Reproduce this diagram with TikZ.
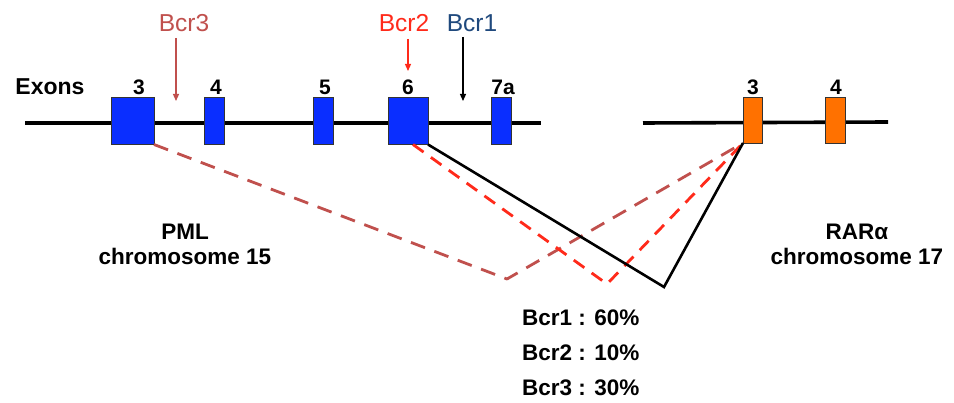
\documentclass[tikz,border=0pt]{standalone}
\usepackage{fontspec}
\setmainfont{Liberation Sans}
\usetikzlibrary{arrows.meta}
\definecolor{exblue}{HTML}{0A2EFF}
\definecolor{exorange}{HTML}{FF7100}
\definecolor{rosy}{HTML}{C0504D}
\definecolor{bred}{HTML}{FF2A1A}
\definecolor{dblue}{HTML}{1F497D}
\begin{document}
\begin{tikzpicture}[x=1pt,y=-1pt,
  exon/.style={draw=black!80,line width=0.8pt,fill=exblue,minimum height=47pt,inner sep=0pt,outer sep=0pt},
  rexon/.style={draw=black!80,line width=0.8pt,fill=exorange,minimum height=46pt,inner sep=0pt,outer sep=0pt},
  chrom/.style={line width=4.5pt},
  num/.style={font=\bfseries\fontsize{21}{24}\selectfont,inner sep=0pt,anchor=base},
  lbl/.style={font=\bfseries\fontsize{22.5}{25}\selectfont,inner sep=0pt,align=center},
  bcr/.style={font=\fontsize{24.5}{27}\selectfont,inner sep=0pt,anchor=base},
  pct/.style={font=\bfseries\fontsize{22.5}{25}\selectfont,inner sep=0pt,anchor=base west},
  ptr/.style={line width=1.2pt,-{Triangle[length=7pt,width=6pt]}},
  brk1/.style={line width=2.6pt,black},
  brk2/.style={line width=2.8pt,bred,dash pattern=on 13pt off 9pt},
  brk3/.style={line width=2.8pt,rosy,dash pattern=on 15pt off 10pt},
]
\useasboundingbox (0,0) rectangle (954,403);
% chromosome lines
\coordinate (pL) at (25,123);
\coordinate (pR) at (541,123);
\coordinate (rL) at (643,123);
\coordinate (rR) at (888,122);
\draw[chrom] (pL) -- (pR);
\draw[chrom,line width=3.6pt] (rL) -- (rR);
% PML exons
\node[exon,minimum width=43pt] (e3) at (132.5,121) {};
\node[exon,minimum width=20pt] (e4) at (214,121) {};
\node[exon,minimum width=20pt] (e5) at (323.5,121) {};
\node[exon,minimum width=40pt] (e6) at (408,121) {};
\node[exon,minimum width=20pt] (e7) at (501.5,121) {};
% RARA exons
\node[rexon,minimum width=19pt] (r3) at (752.5,120) {};
\node[rexon,minimum width=20pt] (r4) at (835,120) {};
% exon numbers
\node[num] (n3) at (139,95) {3};
\node[num] (n4) at (216,95) {4};
\node[num] (n5) at (325,95) {5};
\node[num] (n6) at (408,95) {6};
\node[num] (n7) at (503,95) {7a};
\node[num] (m3) at (753,95) {3};
\node[num] (m4) at (836,95) {4};
\node[num,font=\bfseries\fontsize{23}{26}\selectfont] (ex) at (50,95) {Exons};
% Bcr labels and pointers
\node[bcr,text=rosy] (b3) at (184,32) {Bcr3};
\node[bcr,text=bred] (b2) at (404,32) {Bcr2};
\node[bcr,text=dblue] (b1) at (472,32) {Bcr1};
\coordinate (t3) at (176,101);
\coordinate (t2) at (408,71);
\coordinate (t1) at (463,101);
\draw[ptr,rosy] (t3 |- 0,38) -- (t3);
\draw[ptr,bred] (t2 |- 0,39) -- (t2);
\draw[ptr,black] (t1 |- 0,37) -- (t1);
% breakpoint connectors
\coordinate (v3) at (507,279);
\coordinate (v2) at (607,284);
\coordinate (v1) at (664,287);
\coordinate (s2) at (413,144.5);
\draw[brk3,line join=round] (e3.south east) -- (v3) -- (r3.south west);
\draw[brk2] (s2) -- (v2) -- (r3.south west);
\draw[brk1,line join=miter] (e6.south east) -- (v1) -- (r3.south west);
% chromosome labels
\node[lbl] (pml) at (185,244) {PML\\chromosome 15};
\node[lbl] (rar) at (857,244) {RARα\\chromosome 17};
% percentages
\node[pct] (p1) at (522,326) {Bcr1 : 60\%};
\node[pct] (p2) at (522,361) {Bcr2 : 10\%};
\node[pct] (p3) at (522,396) {Bcr3 : 30\%};
\end{tikzpicture}
\end{document}
